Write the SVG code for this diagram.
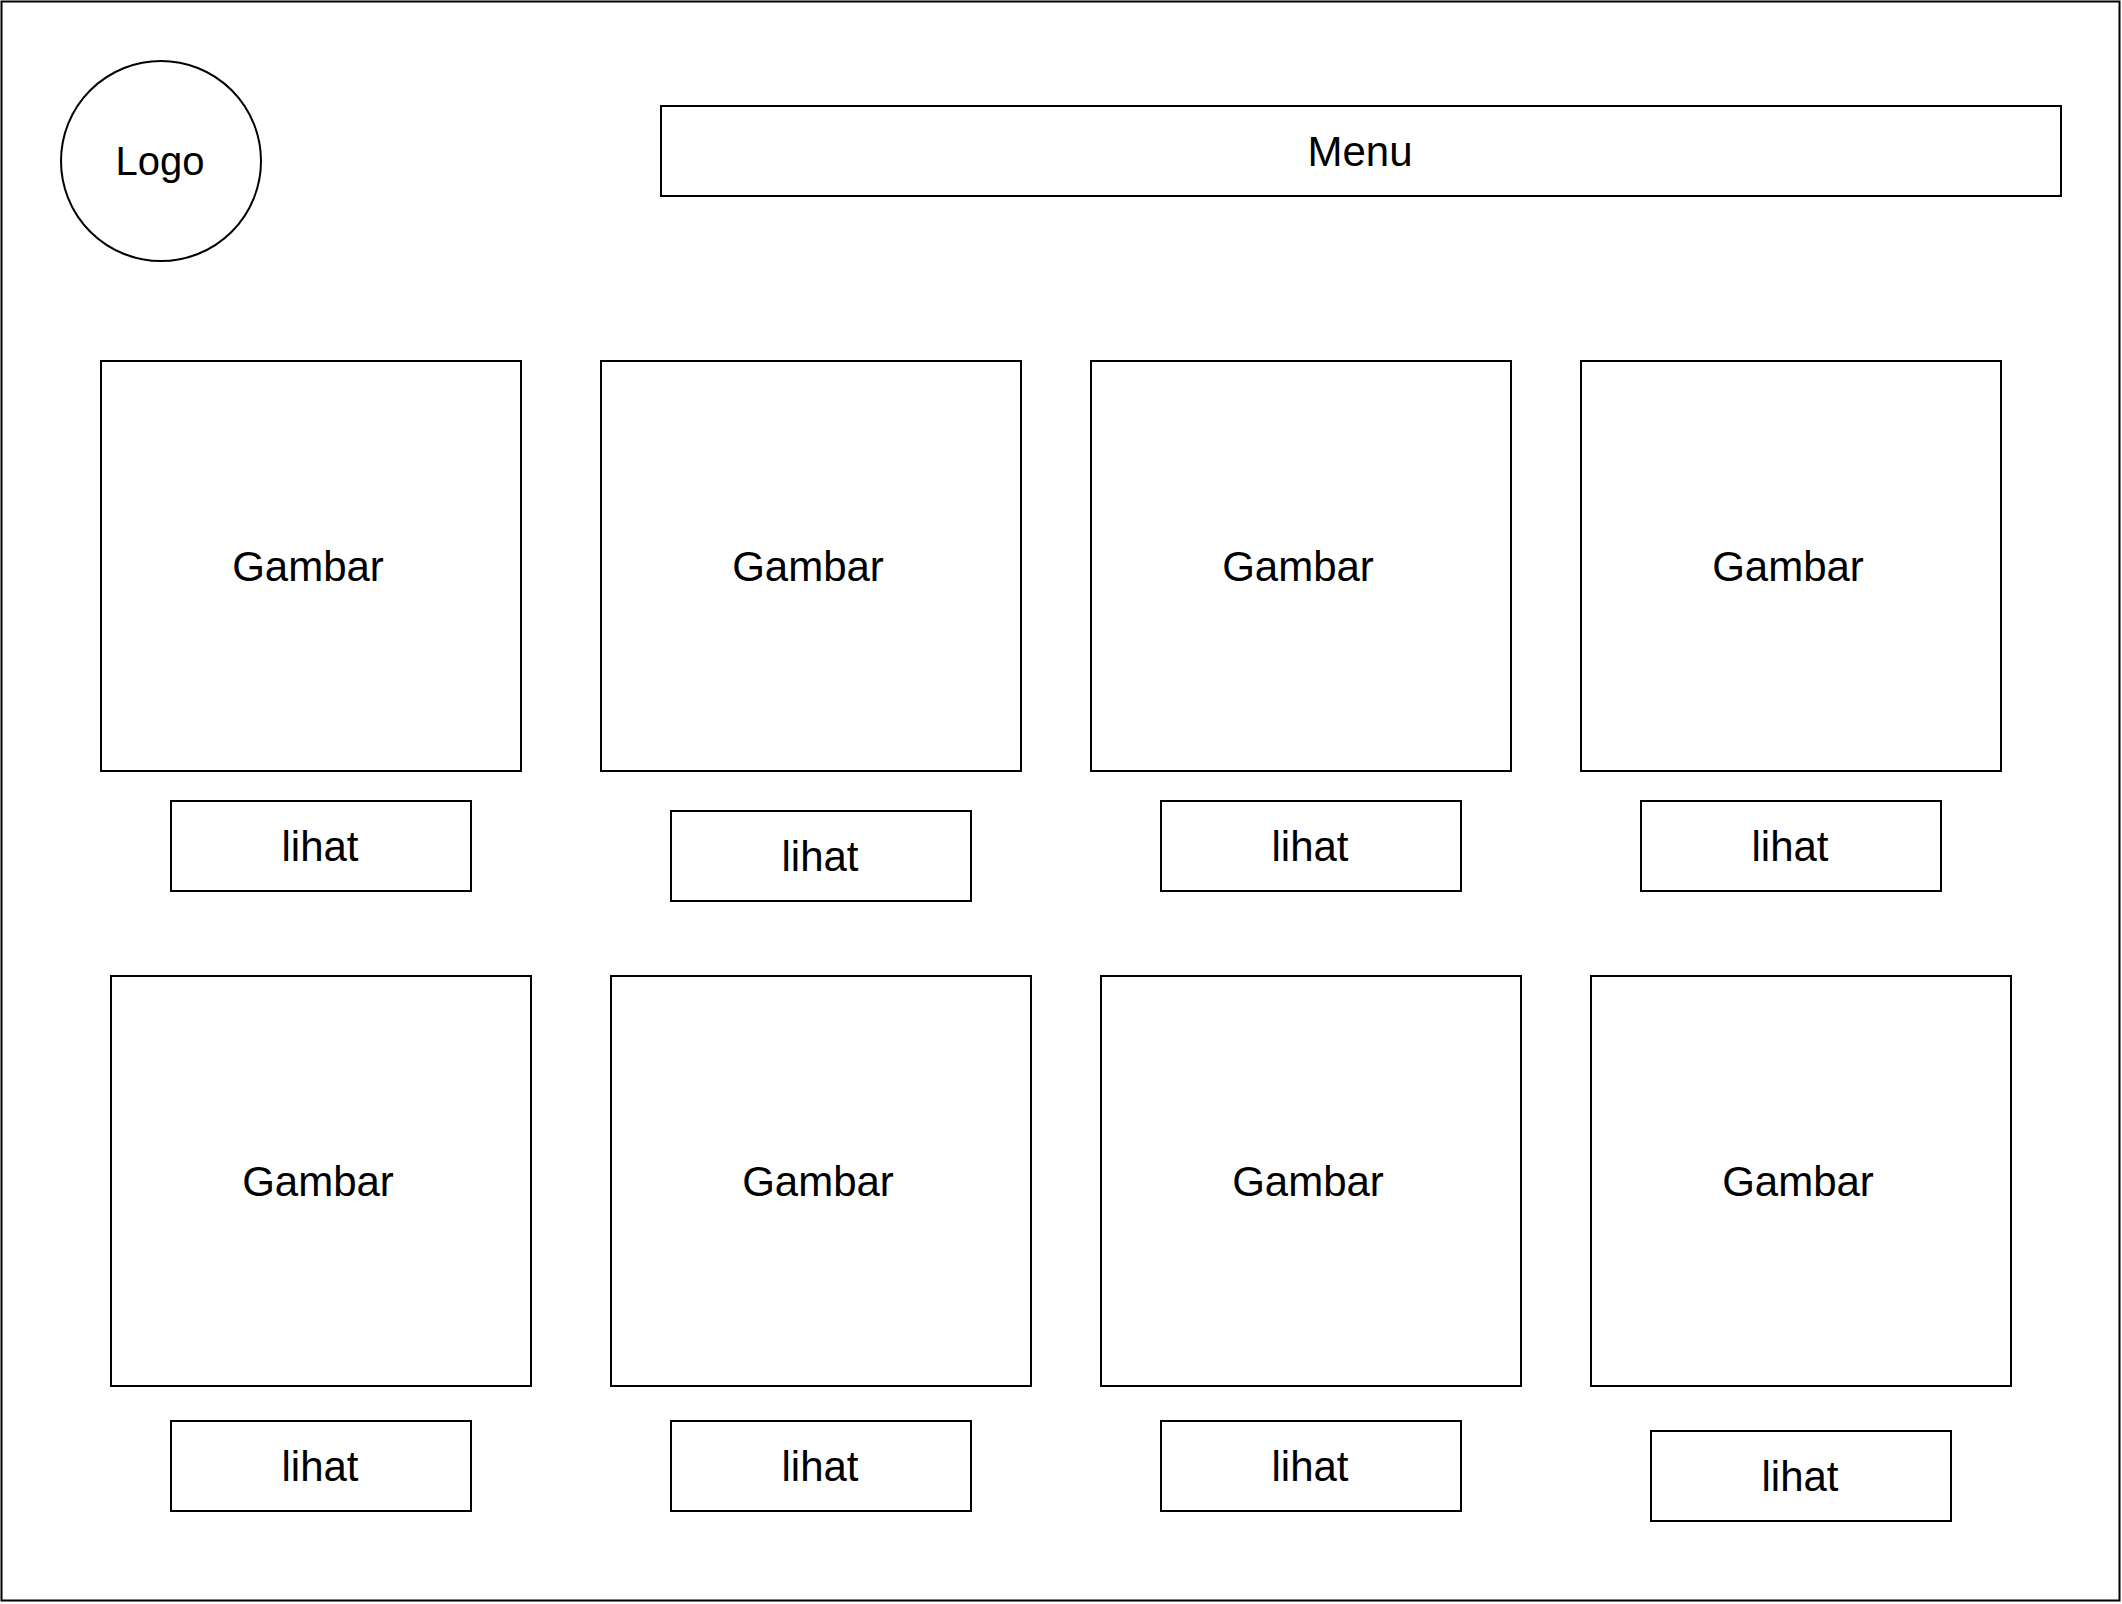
<svg xmlns="http://www.w3.org/2000/svg" width="2122" height="1604" viewBox="0 0 2122 1604">
<style>
.s{fill:#ffffff;stroke:#000000;stroke-width:2}
.t{font-family:"Liberation Sans",Arial,sans-serif;font-size:42px;fill:#000000;text-anchor:middle;dominant-baseline:central}
</style>
<rect x="0" y="0" width="2122" height="1604" fill="#ffffff"/>
<g id="frame"><rect class="s" x="1.5" y="1.5" width="2118" height="1599"/></g>
<g id="logo"><circle class="s" cx="161" cy="161" r="100"/><text class="t" x="160" y="161" style="font-size:40px">Logo</text></g>
<g id="menu"><rect class="s" x="661" y="106" width="1400" height="90"/><text class="t" x="1360" y="151">Menu</text></g>
<g id="gambar1"><rect class="s" x="101" y="361" width="420" height="410"/><text class="t" x="308" y="566">Gambar</text></g>
<g id="gambar2"><rect class="s" x="601" y="361" width="420" height="410"/><text class="t" x="808" y="566">Gambar</text></g>
<g id="gambar3"><rect class="s" x="1091" y="361" width="420" height="410"/><text class="t" x="1298" y="566">Gambar</text></g>
<g id="gambar4"><rect class="s" x="1581" y="361" width="420" height="410"/><text class="t" x="1788" y="566">Gambar</text></g>
<g id="lihat1"><rect class="s" x="171" y="801" width="300" height="90"/><text class="t" x="320" y="846">lihat</text></g>
<g id="lihat2"><rect class="s" x="671" y="811" width="300" height="90"/><text class="t" x="820" y="856">lihat</text></g>
<g id="lihat3"><rect class="s" x="1161" y="801" width="300" height="90"/><text class="t" x="1310" y="846">lihat</text></g>
<g id="lihat4"><rect class="s" x="1641" y="801" width="300" height="90"/><text class="t" x="1790" y="846">lihat</text></g>
<g id="gambar5"><rect class="s" x="111" y="976" width="420" height="410"/><text class="t" x="318" y="1181">Gambar</text></g>
<g id="gambar6"><rect class="s" x="611" y="976" width="420" height="410"/><text class="t" x="818" y="1181">Gambar</text></g>
<g id="gambar7"><rect class="s" x="1101" y="976" width="420" height="410"/><text class="t" x="1308" y="1181">Gambar</text></g>
<g id="gambar8"><rect class="s" x="1591" y="976" width="420" height="410"/><text class="t" x="1798" y="1181">Gambar</text></g>
<g id="lihat5"><rect class="s" x="171" y="1421" width="300" height="90"/><text class="t" x="320" y="1466">lihat</text></g>
<g id="lihat6"><rect class="s" x="671" y="1421" width="300" height="90"/><text class="t" x="820" y="1466">lihat</text></g>
<g id="lihat7"><rect class="s" x="1161" y="1421" width="300" height="90"/><text class="t" x="1310" y="1466">lihat</text></g>
<g id="lihat8"><rect class="s" x="1651" y="1431" width="300" height="90"/><text class="t" x="1800" y="1476">lihat</text></g>
<g id="connectors"></g>
</svg>
